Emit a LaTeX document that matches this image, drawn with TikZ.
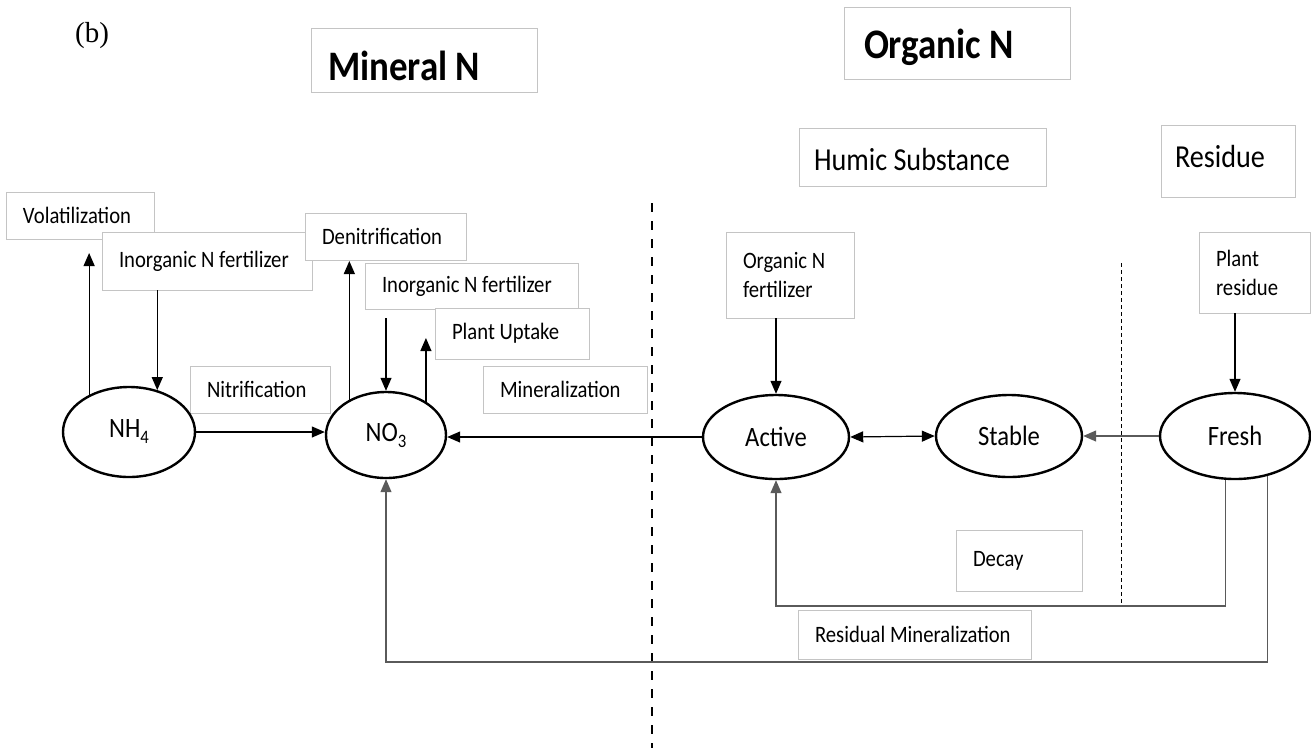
\documentclass[tikz,border=0pt]{standalone}
\usepackage{fontspec}
\setmainfont{Carlito}[FakeStretch=0.88]
\newfontfamily\timesf{Liberation Serif}
\usetikzlibrary{arrows.meta,shapes.geometric}
\definecolor{boxgray}{HTML}{C4C4C4}
\definecolor{linegray}{HTML}{5A5A5A}
\newcommand{\lowsub}[1]{\raisebox{-6pt}{\fontsize{19}{19}\selectfont #1}}
\tikzset{
  lbl/.style={draw=boxgray, fill=white, line width=0.9pt, inner xsep=17pt, inner ysep=0pt,
              align=flush left, font=\fontsize{23.5}{29}\selectfont},
  head/.style={lbl, font=\fontsize{42}{46}\selectfont\bfseries},
  sub/.style={lbl, font=\fontsize{32}{36}\selectfont},
  pool/.style={ellipse, draw=black, line width=2.4pt, fill=white, inner sep=0pt,
               font=\fontsize{28}{31}\selectfont},
  tip/.tip={Triangle[length=13pt,width=11pt]},
  arr/.style={line width=1.2pt, -tip},
  garr/.style={arr, draw=linegray},
  sep/.style={line width=2.4pt, dash pattern=on 9pt off 9pt},
  subsep/.style={line width=0.9pt, dash pattern=on 4pt off 3pt},
}
\begin{document}
\begin{tikzpicture}[x=1pt,y=-1pt]
\useasboundingbox[fill=white] (0,0) rectangle (1311,748);

% separators
\draw[sep] (652,203) -- (652,748);
\draw[subsep] (1121,263) -- (1121,603);

% caption and headings
\node[font=\timesf\fontsize{29}{32}\selectfont, inner sep=0pt] (blabel) at (92,36) {(b)};
\node[head, text width=192pt, minimum height=64pt, text height=40pt, text depth=0pt] (minN) at (424,60) {\mbox{Mineral N}};
\node[head, inner xsep=20pt, text width=186pt, minimum height=72pt, text height=38pt, text depth=8pt] (orgN) at (957,43) {\mbox{Organic N}};
\node[sub, inner xsep=15pt, text width=217pt, minimum height=58pt, text height=26pt, text depth=0pt] (humic) at (922.5,157) {\mbox{Humic Substance}};
\node[sub, inner xsep=14pt, text width=106pt, minimum height=72pt, text height=22pt, text depth=10pt] (residue) at (1228,161) {Residue};

% process labels
\node[lbl, text width=114pt, minimum height=47pt] (volat) at (80,215.5) {Volatilization};
\node[lbl, text width=176pt, minimum height=58pt] (inorg1) at (207,261) {\mbox{Inorganic N fertilizer}};
\node[lbl, text width=127pt, minimum height=47pt] (denit) at (385.5,236.5) {Denitrification};
\node[lbl, text width=179pt, minimum height=46pt] (inorg2) at (471.5,286) {\mbox{Inorganic N fertilizer}};
\node[lbl, text width=120pt, minimum height=51pt] (uptake) at (512,333.5) {\mbox{Plant Uptake}};
\node[lbl, text width=130pt, minimum height=47pt] (mineral) at (565,389.5) {Mineralization};
\node[lbl, text width=106pt, minimum height=47pt] (nitr) at (260,389.5) {Nitrification};
\node[lbl, text width=94pt, minimum height=86pt] (orgfert) at (790,275) {\mbox{Organic N}\\fertilizer};
\node[lbl, text width=77pt, minimum height=81pt] (plres) at (1254.5,272.5) {Plant\\residue};
\node[lbl, text width=92pt, minimum height=61pt] (decay) at (1019,560.5) {Decay};
\node[lbl, text width=199pt, minimum height=49pt] (resmin) at (914.5,634.5) {\mbox{Residual Mineralization}};

% pools
\node[pool, minimum width=132pt, minimum height=90pt] (nh4) at (129,432) {NH\lowsub{4}};
\node[pool, minimum width=120pt, minimum height=86pt] (no3) at (386,435) {NO\lowsub{3}};
\node[pool, minimum width=146pt, minimum height=84pt] (active) at (776,437) {Active};
\node[pool, minimum width=146pt, minimum height=82pt] (stable) at (1009,436) {Stable};
\node[pool, minimum width=150pt, minimum height=86pt] (fresh) at (1235,436) {Fresh};

% free ends
\coordinate (vtip) at (90,253);
\coordinate (dtip) at (350,261);
\coordinate (ptip) at (425,338);
\coordinate (istart) at (385,318);
\coordinate (decayrow) at (1226,606);
\coordinate (resrow) at (1266,662);

% connectors
\draw[arr] (nh4.137) -- (nh4.137 |- vtip);
\draw[arr] (inorg1.south -| nh4.56) -- (nh4.56);
\draw[arr] (nh4.east) -- (nh4.east -| no3.west);
\draw[arr] (no3.136) -- (no3.136 |- dtip);
\draw[arr] (istart -| no3.north) -- (no3.north);
\draw[arr] (no3.40) -- (no3.40 |- ptip);
\draw[arr] (active.west) -- (active.west -| no3.east);
\draw[line width=1.2pt, tip-tip] (active.east) -- (stable.west);
\draw[garr] (fresh.west) -- (stable.east);
\draw[arr] (orgfert.south -| active.north) -- (active.north);
\draw[arr] (plres.south -| fresh.north) -- (fresh.north);
\draw[garr] (fresh.258) -- (fresh.258 |- decayrow) -| (active.south);
\draw[garr] (fresh.309) -- (fresh.309 |- resrow) -| (no3.south);
\end{tikzpicture}
\end{document}
